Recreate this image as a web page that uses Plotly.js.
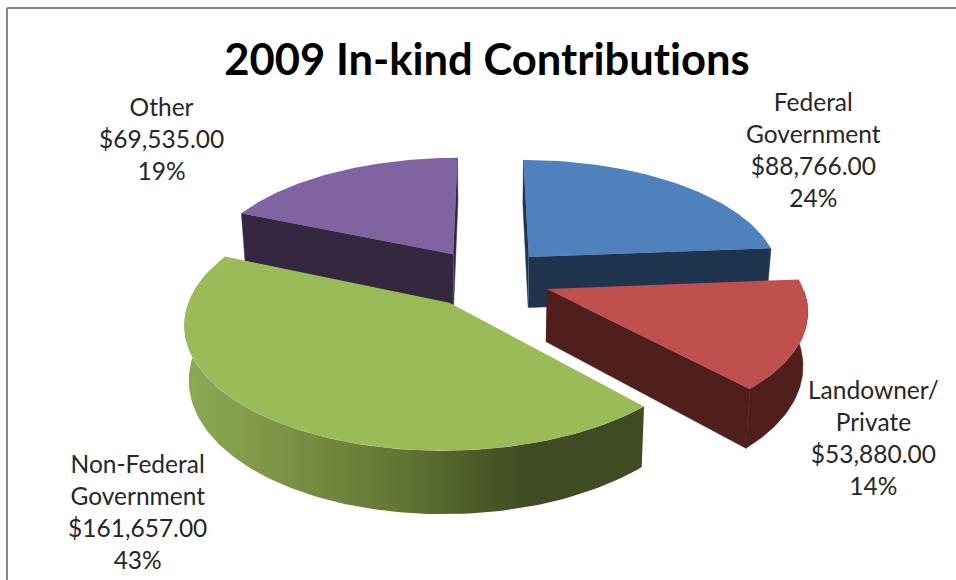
<!DOCTYPE html>
<html>
<head>
<meta charset="utf-8">
<script src="https://cdn.plot.ly/plotly-3.0.0.min.js"></script>
<style>html,body{margin:0;padding:0;background:#fff}#chart{width:956px;height:580px}svg text{font-feature-settings:"liga" 0,"clig" 0,"calt" 0 !important;font-variant-ligatures:none !important;letter-spacing:0.01px}</style>
</head>
<body>
<div id="chart"></div>
<script>
// 2009 in-kind contributions by source
const categories = ["Federal<br>Government", "Landowner/<br>Private", "Non-Federal<br>Government", "Other"];
const amounts = [88766, 53880, 161657, 69535];
const faceColors = ["#4F81BD", "#C0504D", "#9BBB59", "#8064A2"];
const wallColors = ["#1F344E", "#4F1E1D", "#9BBB59", "#35273F"];
const labelAnchors = [[813, 149], [873, 437], [137, 511], [161, 138]];

// Projection of the tilted, exploded pie onto the canvas
const view = {cx: 487, cy: 278, a: 253, b: 117.5, persp: 0.15, explode: 0.25, depth: 52, taper: 0.985};
const total = amounts.reduce((s, v) => s + v, 0);

function project(X, Y, lowered) {
  const s = 1 / (1 - view.persp * Y);
  const x = view.a * X * s, y = view.b * Y * s;
  if (!lowered) return [view.cx + x, view.cy + y];
  return [view.cx + x * view.taper, view.cy + y + view.depth * s];
}

// Angular extent of each slice, clockwise from twelve o'clock
let running = 0;
const slices = amounts.map(v => {
  const start = running / total * 2 * Math.PI;
  running += v;
  const end = running / total * 2 * Math.PI;
  const mid = (start + end) / 2;
  return {start, end, ox: view.explode * Math.sin(mid), oy: -view.explode * Math.cos(mid)};
});

function rim(sl, t0, t1, lowered) {
  const n = Math.max(2, Math.ceil(Math.abs(t1 - t0) / 0.02));
  const pts = [];
  for (let i = 0; i <= n; i++) {
    const t = t0 + (t1 - t0) * i / n;
    pts.push(project(sl.ox + Math.sin(t), sl.oy - Math.cos(t), lowered));
  }
  return pts;
}
const apex = (sl, lowered) => project(sl.ox, sl.oy, lowered);

function polygon(pts, color, extra, edge) {
  return Object.assign({
    type: "scatter", mode: "lines", fill: "toself", fillcolor: color,
    x: pts.map(p => p[0]), y: pts.map(p => p[1]),
    line: {width: edge || 0, color: color}, hoverinfo: "skip", showlegend: false
  }, extra || {});
}
const face = i => polygon([apex(slices[i], false), ...rim(slices[i], slices[i].start, slices[i].end, false)], faceColors[i]);
const radialWall = (i, t) => {
  const sl = slices[i];
  return polygon([apex(sl, false), ...rim(sl, t, t, false).slice(0, 1), ...rim(sl, t, t, true).slice(0, 1), apex(sl, true)], wallColors[i], null, 0.5);
};
const rimWall = (i, t0, t1, extra) => {
  const sl = slices[i];
  return polygon([...rim(sl, t0, t1, false), ...rim(sl, t1, t0, true)], wallColors[i], extra, extra ? 0 : 0.5);
};

const [FED, LAND, NONFED, OTHER] = [0, 1, 2, 3];
const traces = [
  radialWall(OTHER, slices[OTHER].start),
  radialWall(OTHER, slices[OTHER].end),
  face(OTHER),
  radialWall(FED, slices[FED].start),
  radialWall(FED, slices[FED].end),
  face(FED),
  radialWall(LAND, slices[LAND].end),
  rimWall(LAND, slices[LAND].start + 0.1, slices[LAND].end),
  face(LAND),
  rimWall(NONFED, slices[NONFED].start, 1.58 * Math.PI, {
    fillgradient: {type: "horizontal", colorscale: [
      [0, "#8DA951"], [0.12, "#849E4C"], [0.45, "#647834"], [0.75, "#3F4B22"], [1, "#3F4B22"]
    ]}
  }),
  face(NONFED)
];

const money = v => "$" + v.toLocaleString("en-US", {minimumFractionDigits: 2, maximumFractionDigits: 2});
const annotations = categories.map((c, i) => ({
  x: labelAnchors[i][0], y: labelAnchors[i][1], xref: "x", yref: "y",
  text: c + "<br>" + money(amounts[i]) + "<br>" + Math.round(amounts[i] / total * 100) + "%",
  showarrow: false, align: "center", xanchor: "center", yanchor: "middle",
  font: {family: "Lato, 'Noto Sans', sans-serif", size: 24.5, color: "#262626"}
}));

const layout = {
  width: 956, height: 580,
  margin: {l: 0, r: 0, t: 0, b: 0},
  paper_bgcolor: "#fff", plot_bgcolor: "#fff",
  title: {
    text: "<b>2009 In-kind Contributions</b>",
    x: 487 / 956, xanchor: "center", y: 1 - 60 / 580, yanchor: "middle",
    font: {family: "Lato, 'Noto Sans', sans-serif", size: 43.5, color: "#000"}
  },
  xaxis: {range: [0, 956], visible: false, fixedrange: true},
  yaxis: {range: [580, 0], visible: false, fixedrange: true},
  annotations: annotations,
  shapes: [
    {type: "line", xref: "paper", yref: "paper", x0: 7 / 956, x1: 1, y0: 1 - 8 / 580, y1: 1 - 8 / 580, line: {color: "#868686", width: 2}},
    {type: "line", xref: "paper", yref: "paper", x0: 7 / 956, x1: 7 / 956, y0: 1 - 8 / 580, y1: 0, line: {color: "#868686", width: 2}}
  ]
};

Plotly.newPlot("chart", traces, layout, {displayModeBar: false, staticPlot: true});
</script>
</body>
</html>
